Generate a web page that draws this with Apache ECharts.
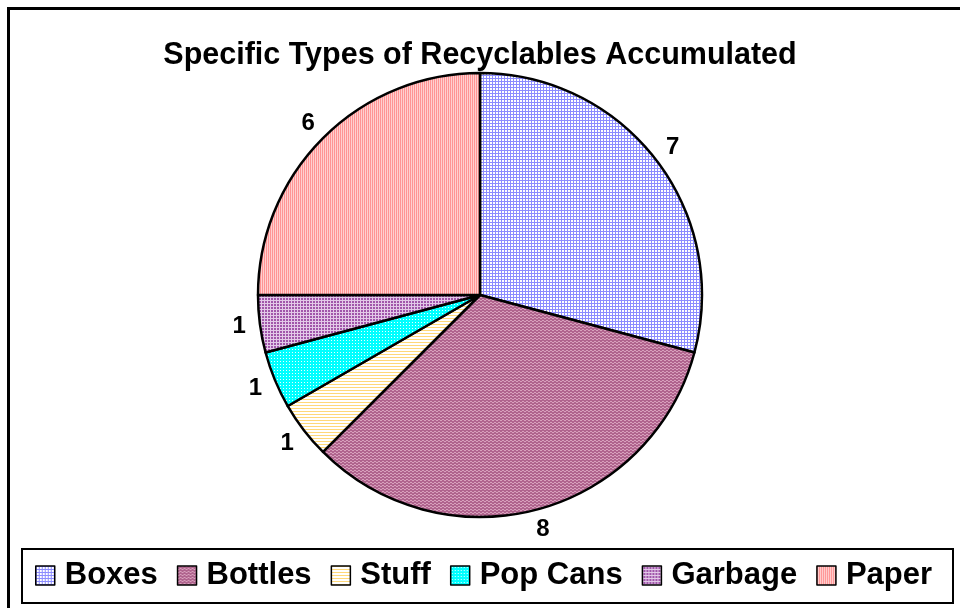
<!DOCTYPE html>
<html>
<head>
<meta charset="utf-8">
<script src="https://cdn.jsdelivr.net/npm/echarts@6/dist/echarts.min.js"></script>
<style>
  html, body { margin: 0; padding: 0; background: #fff; }
  #chart { width: 960px; height: 608px; }
</style>
</head>
<body>
<div id="chart"></div>
<script>
  var categories = ['Boxes', 'Bottles', 'Stuff', 'Pop Cans', 'Garbage', 'Paper'];
  var counts = [7, 8, 1, 1, 1, 6];

  // small repeating tiles, like the excel fill patterns
  function tile(w, h, bg, fg, draw) {
    var c = document.createElement('canvas');
    c.width = w; c.height = h;
    var g = c.getContext('2d');
    g.fillStyle = bg;
    g.fillRect(0, 0, w, h);
    g.fillStyle = fg;
    draw(g);
    return { image: c, repeat: 'repeat' };
  }

  var fills = [
    tile(3, 3, '#ffffff', '#8c8cff', function (g) { g.fillRect(0, 0, 3, 1); g.fillRect(0, 0, 1, 3); }),
    tile(4, 3, '#b0648e', '#d8a0bc', function (g) { g.fillRect(0, 0, 2, 1); g.fillRect(2, 2, 2, 1); }),
    tile(3, 3, '#ffffff', '#ffd878', function (g) { g.fillRect(0, 0, 3, 1); }),
    tile(3, 3, '#00ffff', '#e8ffff', function (g) { g.fillRect(1, 1, 1, 1); }),
    tile(3, 3, '#a055aa', '#e2c8e8', function (g) { g.fillRect(0, 0, 3, 1); g.fillRect(0, 0, 1, 3); }),
    tile(2, 1, '#ffd0d0', '#ff9494', function (g) { g.fillRect(0, 0, 1, 1); })
  ];

  var pieData = categories.map(function (name, i) {
    return { name: name, value: counts[i], itemStyle: { color: fills[i] } };
  });
  var labelData = categories.map(function (name, i) {
    return { name: name, value: counts[i] };
  });

  var chart = echarts.init(document.getElementById('chart'));
  var option = {
    animation: false,
    title: {
      text: 'Specific Types of Recyclables Accumulated',
      left: 'center',
      top: 35,
      textStyle: { fontFamily: 'Liberation Sans, Arial', fontSize: 30.5, fontWeight: 'bold', color: '#000' }
    },
    legend: {
      data: categories,
      icon: 'rect',
      left: 35,
      top: 560,
      padding: 0,
      itemWidth: 19,
      itemHeight: 19,
      itemGap: 19,
      itemStyle: { borderColor: '#000', borderWidth: 1.5 },
      textStyle: { fontFamily: 'Liberation Sans, Arial', fontSize: 31, fontWeight: 'bold', color: '#000', padding: [0, 0, 0, 5] }
    },
    graphic: [
      { type: 'rect', shape: { x: 8.5, y: 8.5, width: 1000, height: 1000 }, style: { fill: 'none', stroke: '#000', lineWidth: 3 } },
      { type: 'rect', shape: { x: 22, y: 549, width: 931, height: 54 }, style: { fill: 'none', stroke: '#000', lineWidth: 2 } }
    ],
    series: [
      {
        type: 'pie',
        center: [480, 295],
        radius: 222,
        startAngle: 90,
        clockwise: true,
        label: { show: false },
        labelLine: { show: false },
        itemStyle: { borderColor: '#000', borderWidth: 2.5 },
        emphasis: { disabled: true },
        data: pieData
      },
      {
        // transparent ring just to hold the value labels outside the pie
        type: 'pie',
        center: [480, 295],
        radius: [222, 258],
        startAngle: 90,
        clockwise: true,
        silent: true,
        legendHoverLink: false,
        itemStyle: { color: 'rgba(0,0,0,0)', borderWidth: 0 },
        label: {
          show: true,
          position: 'inside',
          formatter: '{c}',
          fontFamily: 'Liberation Sans, Arial',
          fontSize: 24,
          fontWeight: 'bold',
          color: '#000'
        },
        labelLine: { show: false },
        emphasis: { disabled: true },
        data: labelData
      }
    ]
  };
  chart.setOption(option);
</script>
</body>
</html>
